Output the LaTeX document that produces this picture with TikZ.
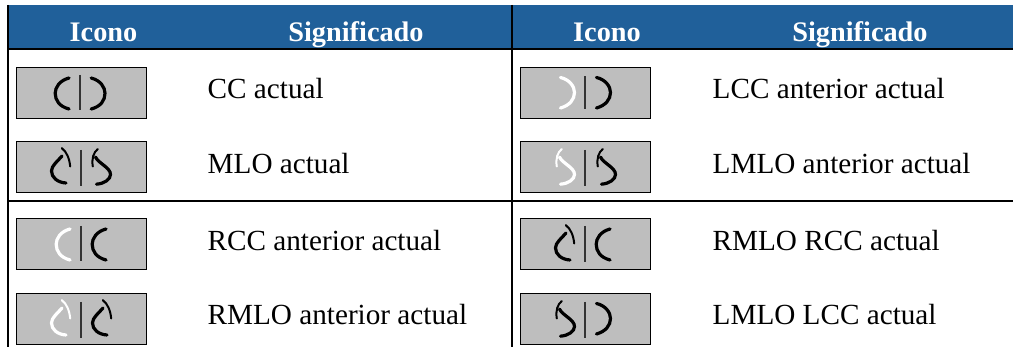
\documentclass[tikz,border=0pt]{standalone}
\usepackage{fontspec}
\setmainfont{Liberation Serif}
\definecolor{hdr}{HTML}{20609A}
\definecolor{iconbg}{HTML}{BEBEBE}
\definecolor{barc}{HTML}{333333}
\tikzset{
  hdrtext/.style={text=white,font=\fontsize{28.3}{32}\selectfont\bfseries,inner sep=0pt,anchor=base},
  celltext/.style={text=black,font=\fontsize{29.2}{34}\selectfont,inner sep=0pt,anchor=base west},
  iconbox/.style={draw=black,line width=1pt,fill=iconbg,minimum width=130pt,minimum height=51pt,inner sep=0pt,anchor=north west},
  rule/.style={draw=black,line width=2pt},
  stk/.style={line width=3.2pt,line cap=round},
  thn/.style={line width=2pt,line cap=round},
  ibar/.style={draw=barc,line width=2.2pt}
}
% icon shapes, coordinates relative to box top-left
\newcommand{\shpL}[2]{\draw[stk,#1,shift={(#2,0)}] (53.5,10.5) .. controls (44,13) and (39.7,20) .. (39.7,25.7) .. controls (39.7,33) and (44,39) .. (53.5,41.5);}
\newcommand{\shpR}[2]{\draw[stk,#1,shift={(#2,0)}] (41,10) .. controls (50,12) and (55,19) .. (55,25) .. controls (55,32) and (50,38) .. (41,40.5);}
\newcommand{\shpRM}[2]{\begin{scope}[shift={(#2,0)}]
\draw[thn,#1] (46.3,6.7) .. controls (51,10) and (54,17) .. (54.7,25);
\draw[stk,#1] (46.5,14.5) .. controls (42,20) and (36,24) .. (36,29.5) .. controls (36,36) and (42,41) .. (50.5,41.5);
\end{scope}}
\newcommand{\shpLM}[2]{\begin{scope}[shift={(#2,0)}]
\draw[thn,#1] (42.3,7.5) .. controls (38,11) and (36,17) .. (37.3,25);
\draw[stk,#1] (40,15.5) .. controls (43,22) and (55,26) .. (55,33) .. controls (55,38) and (49,42) .. (41,42.7);
\end{scope}}
\newcommand{\ibarl}[3]{\draw[ibar] (#1,#2) -- (#1,#3);}
\begin{document}
\begin{tikzpicture}[x=1pt,y=-1pt]
\useasboundingbox (0,0) rectangle (1013,347);
\fill[white] (0,0) rectangle (1013,347);
\fill[hdr] (8,5) rectangle (1013,48);
\draw[rule] (7.5,5) -- (7.5,347);
\draw[rule] (512,5) -- (512,347);
\draw[rule] (7,48.7) -- (1013,48.7);
\draw[rule] (7,200.7) -- (1013,200.7);
\node[hdrtext] (h1) at (103.5,41.2) {Icono};
\node[hdrtext] (h2) at (356,41.2) {Significado};
\node[hdrtext] (h3) at (607,41.2) {Icono};
\node[hdrtext] (h4) at (860,41.2) {Significado};
\node[iconbox] (a1) at (15.5,67.5) {};
\node[iconbox] (a2) at (15.5,141.5) {};
\node[iconbox] (a3) at (15.5,218.5) {};
\node[iconbox] (a4) at (15.5,293.5) {};
\node[iconbox] (b1) at (519.5,67.5) {};
\node[iconbox] (b2) at (519.5,141.5) {};
\node[iconbox] (b3) at (519.5,218.5) {};
\node[iconbox] (b4) at (519.5,293.5) {};
\begin{scope}[shift={(a1.north west)}]
\shpL{black}{0}\ibarl{64.5}{7.5}{42.5}\begin{scope}[xscale=-1,shift={(-129.2,0)}]\shpL{black}{0}\end{scope}
\end{scope}
\begin{scope}[shift={(a2.north west)}]
\shpRM{black}{0}\ibarl{65.5}{8.5}{45}\shpLM{black}{40}
\end{scope}
\begin{scope}[shift={(a3.north west)}]
\shpL{white}{1}\ibarl{65.5}{7.5}{43}\shpL{black}{37}
\end{scope}
\begin{scope}[shift={(a4.north west)}]
\shpRM{white}{0}\ibarl{65.5}{8.5}{45}\shpRM{black}{41}
\end{scope}
\begin{scope}[shift={(b1.north west)}]
\shpR{white}{0}\ibarl{65.5}{9}{41.5}\shpR{black}{36}
\end{scope}
\begin{scope}[shift={(b2.north west)}]
\shpLM{white}{0}\ibarl{65.5}{8.5}{45}\shpLM{black}{41}
\end{scope}
\begin{scope}[shift={(b3.north west)}]
\shpRM{black}{0}\ibarl{65.5}{7.5}{44}\shpL{black}{37}
\end{scope}
\begin{scope}[shift={(b4.north west)}]
\shpLM{black}{0}\ibarl{65.5}{8.5}{45}\shpR{black}{36}
\end{scope}
\node[celltext] (t1) at (207.5,99) {CC actual};
\node[celltext] (t2) at (207.5,174) {MLO actual};
\node[celltext] (t3) at (207.5,250.5) {RCC anterior actual};
\node[celltext] (t4) at (207.5,325) {RMLO anterior actual};
\node[celltext] (t5) at (712.5,99) {LCC anterior actual};
\node[celltext] (t6) at (712.5,174) {LMLO anterior actual};
\node[celltext] (t7) at (712.5,250.5) {RMLO RCC actual};
\node[celltext] (t8) at (712.5,325) {LMLO LCC actual};
\end{tikzpicture}
\end{document}
